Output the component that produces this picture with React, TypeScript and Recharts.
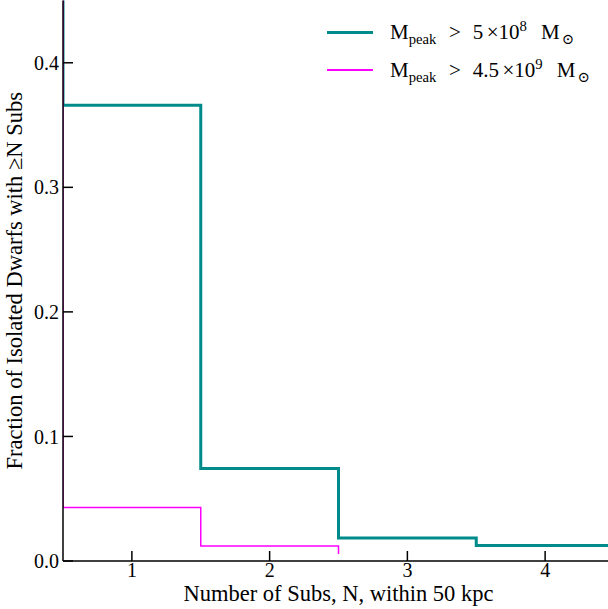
import React from 'react';
import { LineChart, Line, XAxis, YAxis, Legend } from 'recharts';

// Left edge of each count bin (bin N spans N-0.5 .. N+0.5)
const binEdgesLow = [-0.5, 0.5, 1.5, 2.5, 3.5, 4.5];
const binEdgesHigh = [-0.5, 0.5, 1.5, 2.5];
// Fraction of isolated dwarfs hosting at least N subhalos within 50 kpc
const fracLowMassCut = [1.0, 0.366, 0.0742, 0.0185, 0.0124, 0.0124];
const fracHighMassCut = [1.0, 0.043, 0.0121, 0.0056];

const xTicks = [1, 2, 3, 4];
const yTicks = [0, 0.1, 0.2, 0.3, 0.4];

const FONT = '"Liberation Serif", "DejaVu Serif", serif';
const TICK_FS = 20;
const LABEL_FS = 22.5;

const toPoints = (edges: number[], vals: number[]) =>
  edges.map((x, i) => ({ x, y: vals[i] }));

const series = [
  {
    key: 'low',
    color: '#008b8b',
    width: 3,
    points: toPoints(binEdgesLow, fracLowMassCut),
    mant: '5',
    exp: '8',
  },
  {
    key: 'high',
    color: '#ff00ff',
    width: 1.5,
    points: toPoints(binEdgesHigh, fracHighMassCut),
    mant: '4.5',
    exp: '9',
  },
];

const sub: React.CSSProperties = { fontSize: '0.7em', position: 'relative', top: '0.4em' };
const sup: React.CSSProperties = { fontSize: '0.7em', position: 'relative', top: '-0.5em' };

function LegendBox() {
  return (
    <div style={{ fontFamily: FONT, fontSize: 21, color: '#000', lineHeight: 1 }}>
      {series.map((s) => (
        <div key={s.key} style={{ display: 'flex', alignItems: 'center', height: 38, whiteSpace: 'nowrap' }}>
          <div style={{ width: 46, height: s.width, background: s.color, marginRight: 17 }} />
          <span>
            M<span style={sub}>peak</span>
            <span style={{ marginLeft: 12.5 }}>&gt;</span>
            <span style={{ marginLeft: 12 }}>{s.mant}</span>
            <span style={{ marginLeft: 3.5 }}>×10</span>
            <span style={sup}>{s.exp}</span>
            <span style={{ marginLeft: 14 }}>M</span>
            <span style={{ ...sub, marginLeft: 2 }}>⊙</span>
          </span>
        </div>
      ))}
    </div>
  );
}

const tickStyle = { fill: '#000', fontSize: TICK_FS, fontFamily: FONT };

export default function App() {
  return (
    <div
      style={{
        position: 'fixed',
        left: 0,
        top: 0,
        width: 608,
        height: 609,
        overflow: 'hidden',
        background: '#fff',
        fontFamily: FONT,
      }}
    >
      <LineChart width={640} height={609} margin={{ top: 0.5, right: 26, bottom: 0, left: 0 }}>
        <XAxis
          xAxisId="b"
          dataKey="x"
          type="number"
          domain={[0.5, 4.5]}
          allowDataOverflow
          ticks={xTicks}
          interval={0}
          height={48}
          tickSize={-10}
          tickMargin={11.5}
          stroke="#000"
          strokeWidth={1.5}
          tick={tickStyle}
          label={{
            value: 'Number of Subs, N, within 50 kpc',
            position: 'insideBottom',
            offset: 8,
            fill: '#000',
            fontSize: LABEL_FS,
            fontFamily: FONT,
          }}
        />
        <XAxis
          xAxisId="t"
          orientation="top"
          dataKey="x"
          type="number"
          domain={[0.5, 4.5]}
          allowDataOverflow
          ticks={xTicks}
          interval={0}
          height={0}
          tickSize={-10}
          stroke="#000"
          strokeWidth={1.5}
          tick={false}
        />
        <YAxis
          yAxisId="l"
          type="number"
          domain={[0, 0.45]}
          allowDataOverflow
          ticks={yTicks}
          interval={0}
          width={63}
          tickSize={-10}
          tickMargin={14}
          stroke="#000"
          strokeWidth={1.5}
          tick={tickStyle}
          tickFormatter={(v: number) => v.toFixed(1)}
          label={{
            value: 'Fraction of Isolated Dwarfs with ≥N Subs',
            angle: -90,
            position: 'insideLeft',
            offset: 14,
            fill: '#000',
            fontSize: LABEL_FS,
            fontFamily: FONT,
            style: { textAnchor: 'middle' },
          }}
        />
        <YAxis
          yAxisId="r"
          orientation="right"
          type="number"
          domain={[0, 0.45]}
          allowDataOverflow
          ticks={yTicks}
          interval={0}
          width={0}
          tickSize={-10}
          stroke="#000"
          strokeWidth={1.5}
          tick={false}
        />
        {series.map((s) => (
          <Line
            key={s.key}
            xAxisId="b"
            yAxisId="l"
            data={s.points}
            dataKey="y"
            type="stepAfter"
            stroke={s.color}
            strokeWidth={s.width}
            dot={false}
            activeDot={false}
            isAnimationActive={false}
          />
        ))}
        <Legend
          layout="vertical"
          align="center"
          verticalAlign="middle"
          wrapperStyle={{ top: 13, left: 327, width: 280 }}
          content={() => <LegendBox />}
        />
      </LineChart>
    </div>
  );
}
